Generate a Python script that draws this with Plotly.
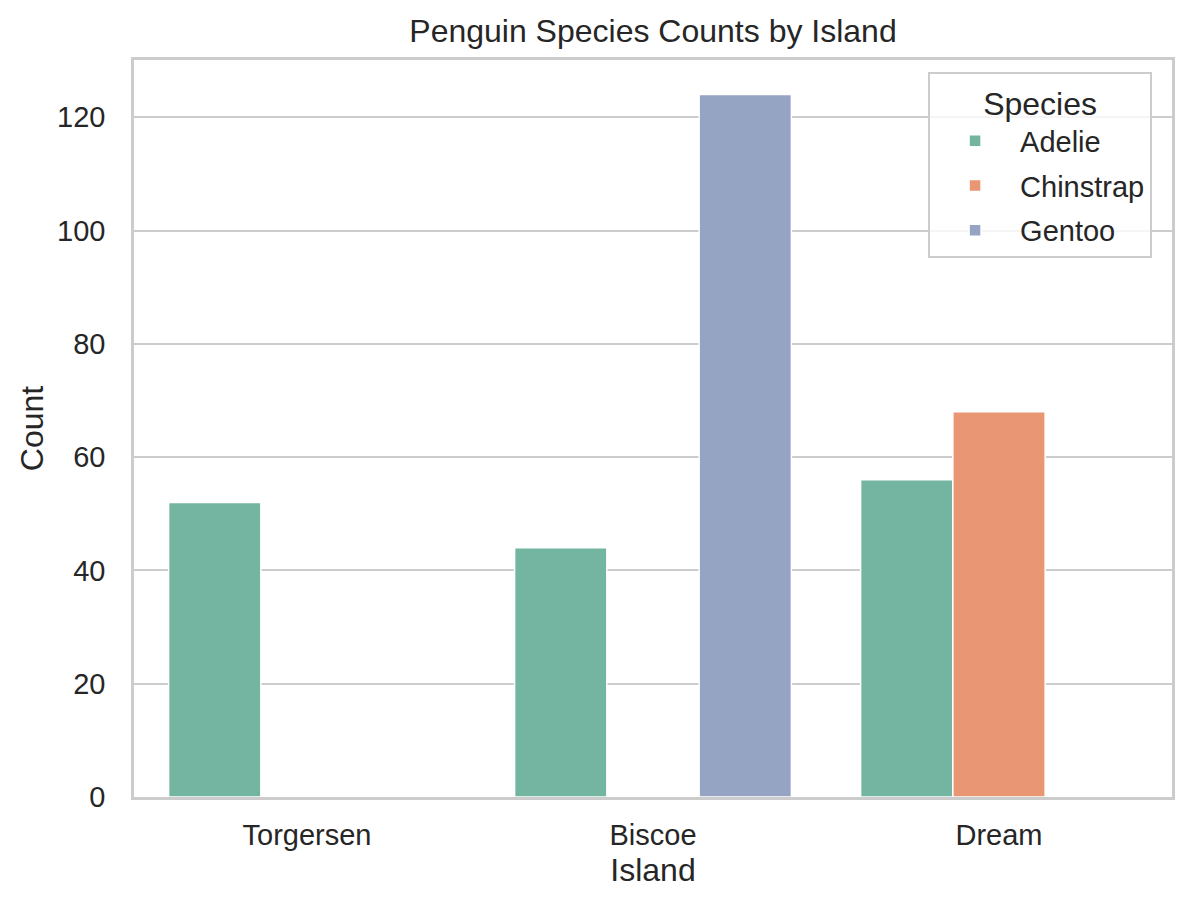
import plotly.graph_objects as go

islands = ["Torgersen", "Biscoe", "Dream"]
species = ["Adelie", "Chinstrap", "Gentoo"]
counts = {
    "Adelie": [52, 44, 56],
    "Chinstrap": [0, 0, 68],
    "Gentoo": [0, 124, 0],
}
colors = {"Adelie": "#73b5a0", "Chinstrap": "#e99675", "Gentoo": "#95a4c3"}

TXT = "#262626"
FONT = "Liberation Sans, Arial, sans-serif"

fig = go.Figure()
for sp in species:
    fig.add_trace(go.Bar(
        x=islands, y=counts[sp], name=sp, legendgroup=sp,
        marker=dict(color=colors[sp], line=dict(color="white", width=1.5)),
    ))

# page body has an 8px margin, so the figure is a bit smaller than the window
fig.update_layout(
    width=1178, height=893,
    barmode="group", bargap=0.2, bargroupgap=0,
    paper_bgcolor="white", plot_bgcolor="white",
    margin=dict(l=126, r=11, t=52, b=104),
    font=dict(family=FONT, color=TXT, size=29),
    title=dict(text="Penguin Species Counts by Island", x=0.5, xref="paper",
               y=1 - 23 / 893, yref="container", yanchor="middle",
               font=dict(size=32, color=TXT)),
    legend=dict(
        title=dict(text="Species", side="top center", font=dict(size=32)),
        x=0.765, y=0.984, xanchor="left", yanchor="top",
        bgcolor="rgba(255,255,255,0.8)", bordercolor="#cccccc", borderwidth=2,
        font=dict(size=29), tracegroupgap=4, itemwidth=80,
    ),
    xaxis=dict(
        title=dict(text="Island", font=dict(size=32), standoff=10),
        showgrid=False, showline=True, linecolor="#cccccc", linewidth=2.5,
        mirror=True, ticks="", tickfont=dict(size=29), range=[-0.5, 2.5],
        ticklabelstandoff=10,
    ),
    yaxis=dict(
        title=dict(text="Count", font=dict(size=32), standoff=4),
        range=[0, 130.1], dtick=20, showgrid=True, gridcolor="#cccccc",
        gridwidth=2, showline=True, linecolor="#cccccc", linewidth=2.5,
        mirror=True, ticks="", tickfont=dict(size=29), zeroline=False,
        ticklabelstandoff=20,
    ),
)

fig.write_html("out.html")
